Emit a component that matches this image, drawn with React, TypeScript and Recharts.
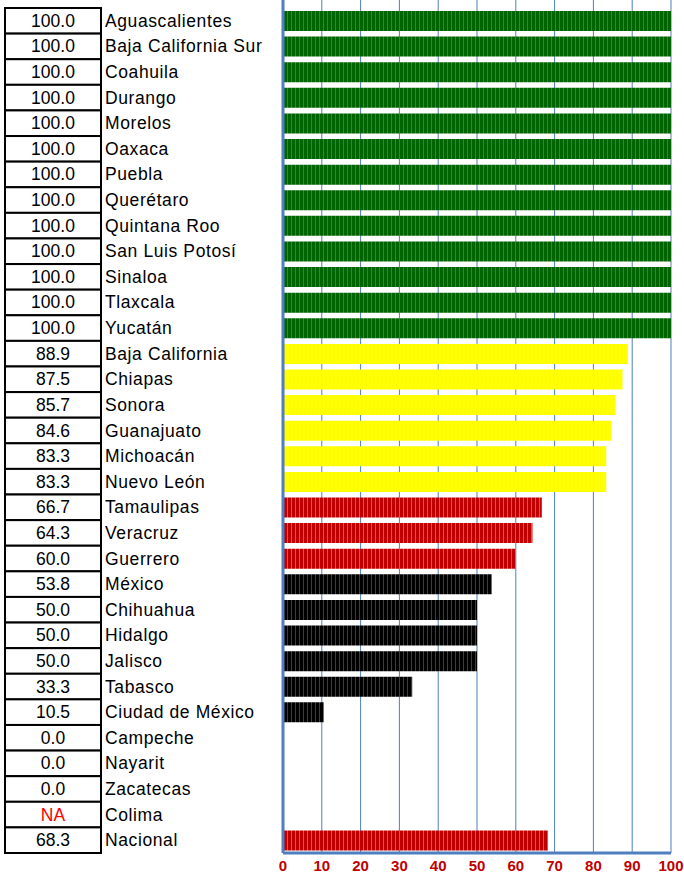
import { BarChart, Bar, XAxis, YAxis, CartesianGrid, Cell } from 'recharts';

const STATES = [
  'Aguascalientes', 'Baja California Sur', 'Coahuila', 'Durango', 'Morelos',
  'Oaxaca', 'Puebla', 'Querétaro', 'Quintana Roo', 'San Luis Potosí',
  'Sinaloa', 'Tlaxcala', 'Yucatán', 'Baja California', 'Chiapas', 'Sonora',
  'Guanajuato', 'Michoacán', 'Nuevo León', 'Tamaulipas', 'Veracruz',
  'Guerrero', 'México', 'Chihuahua', 'Hidalgo', 'Jalisco', 'Tabasco',
  'Ciudad de México', 'Campeche', 'Nayarit', 'Zacatecas', 'Colima', 'Nacional',
];

const VALUES: (number | null)[] = [
  100, 100, 100, 100, 100, 100, 100, 100, 100, 100, 100, 100, 100,
  88.9, 87.5, 85.7, 84.6, 83.3, 83.3,
  66.7, 64.3, 60.0,
  53.8, 50.0, 50.0, 50.0, 33.3, 10.5,
  0.0, 0.0, 0.0, null, 68.3,
];

const GROUPS = [
  'green', 'green', 'green', 'green', 'green', 'green', 'green', 'green',
  'green', 'green', 'green', 'green', 'green',
  'yellow', 'yellow', 'yellow', 'yellow', 'yellow', 'yellow',
  'red', 'red', 'red',
  'black', 'black', 'black', 'black', 'black', 'black',
  'black', 'black', 'black', 'black', 'red',
];

const X_TICKS = [0, 10, 20, 30, 40, 50, 60, 70, 80, 90, 100];

const BLUE = '#4F7FBF';
const TICK_RED = '#C00000';
const FONT = '"Liberation Sans", Arial, sans-serif';

const PATTERNS: Record<string, [string, string]> = {
  green: ['#006400', '#2F8A2F'],
  yellow: ['#FFFF00', '#F5F58C'],
  red: ['#C00000', '#D65454'],
  black: ['#000000', '#3C3C3C'],
};

const data = STATES.map((name, i) => ({
  name,
  value: VALUES[i],
  group: GROUPS[i],
}));

const ROW_H = 25.6;

function TableTick(props: any) {
  const { y, payload } = props;
  const i = payload.index;
  const v = VALUES[i];
  const isNA = v === null;
  return (
    <g>
      <rect
        x={5}
        y={y - ROW_H / 2}
        width={96}
        height={ROW_H}
        fill="#fff"
        stroke="#000"
        strokeWidth={2}
      />
      <text
        x={53}
        y={y + 6}
        textAnchor="middle"
        fontSize={17.5}
        fontFamily={FONT}
        fill={isNA ? '#FF0000' : '#000'}
      >
        {isNA ? 'NA' : v!.toFixed(1)}
      </text>
      <text
        x={105}
        y={y + 6}
        fontSize={17.5}
        letterSpacing={0.6}
        fontFamily={FONT}
        fill="#000"
      >
        {payload.value}
      </text>
    </g>
  );
}

export default function App() {
  return (
    <div style={{ position: 'absolute', left: 0, top: 0, background: '#fff' }}>
      <BarChart
        width={684}
        height={878}
        data={data}
        layout="vertical"
        margin={{ top: 0, right: 13, bottom: 0, left: 0 }}
        barSize={20}
      >
        <defs>
          {Object.entries(PATTERNS).map(([key, [base, light]]) => (
            <pattern
              key={key}
              id={`stripe-${key}`}
              width={4}
              height={10}
              patternUnits="userSpaceOnUse"
            >
              <rect x={0} y={0} width={4} height={10} fill={base} />
              <rect x={3} y={0} width={1} height={10} fill={light} />
            </pattern>
          ))}
        </defs>
        <CartesianGrid horizontal={false} stroke={BLUE} strokeWidth={1} />
        <XAxis
          type="number"
          domain={[0, 100]}
          ticks={X_TICKS}
          interval={0}
          axisLine={{ stroke: BLUE, strokeWidth: 3 }}
          tickLine={false}
          tick={{ fill: TICK_RED, fontSize: 15, fontWeight: 'bold', fontFamily: FONT }}
          tickMargin={1}
          height={25}
        />
        <YAxis
          type="category"
          dataKey="name"
          width={283}
          interval={0}
          padding={{ top: 8, bottom: 0 }}
          axisLine={{ stroke: BLUE, strokeWidth: 3 }}
          tickLine={false}
          tick={<TableTick />}
        />
        <Bar dataKey="value" isAnimationActive={false}>
          {data.map((d, i) => (
            <Cell key={i} fill={`url(#stripe-${d.group})`} />
          ))}
        </Bar>
      </BarChart>
    </div>
  );
}
